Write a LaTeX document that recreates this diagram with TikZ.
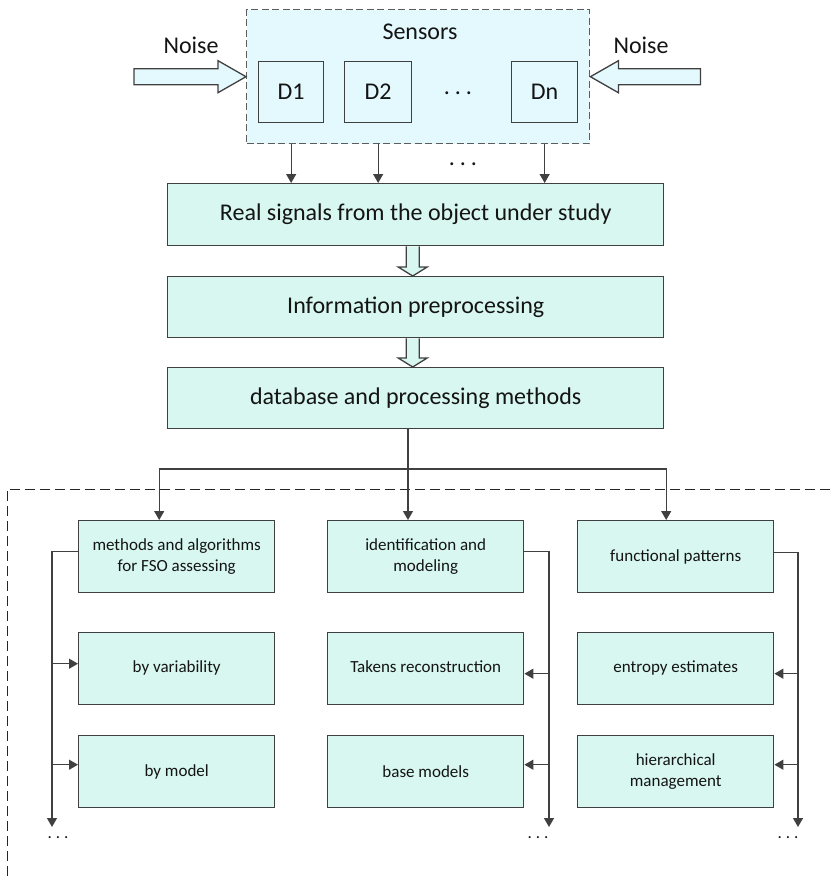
\documentclass[tikz,border=0pt]{standalone}
\usepackage{fontspec}
\setmainfont{Carlito}
\usetikzlibrary{arrows.meta}

\definecolor{mint}{RGB}{215,247,240}
\definecolor{sky}{RGB}{227,249,253}
\definecolor{edge}{RGB}{64,64,64}
\definecolor{ink}{RGB}{20,20,20}

% widely spaced ellipsis
\newcommand{\spdots}[1]{.\kern#1.\kern#1.}

\tikzset{
  big/.style={font=\fontsize{24}{29}\selectfont, text=ink},
  small/.style={font=\fontsize{17}{20.5}\selectfont, text=ink},
  stage/.style={draw=edge, fill=mint, line width=1.4pt, anchor=north west,
    inner sep=0pt, minimum width=496pt, big},
  leaf/.style={draw=edge, fill=mint, line width=1.4pt, anchor=north west,
    inner sep=0pt, minimum width=196pt, minimum height=72pt, align=center, small},
  sensorbox/.style={draw=edge, fill=sky, line width=1.3pt, anchor=north west,
    inner sep=0pt, minimum height=61pt, big},
  group/.style={draw=edge!85, fill=sky, line width=1.4pt, dash pattern=on 7pt off 3.5pt,
    anchor=north west, inner sep=0pt, minimum width=343pt, minimum height=134pt},
  conn/.style={draw=edge, line width=1.3pt},
  arr/.style={conn, -{Triangle[length=9pt,width=10pt]}},
  hollow/.style={draw=edge, line width=1.3pt, line join=miter},
  frame/.style={draw=black!85, line width=1pt, dash pattern=on 10pt off 5pt},
}

\begin{document}
\begin{tikzpicture}[x=1pt, y=-1pt]
  \useasboundingbox (0,0) rectangle (833,876);

  % sensor group
  \node[group] (sens) at (246,9) {};
  \node[big] (senslabel) at (420,32) {Sensors};
  \node[sensorbox, minimum width=65pt] (d1) at (258,61) {D1};
  \node[sensorbox, minimum width=67pt] (d2) at (344,61) {D2};
  \node[sensorbox, minimum width=66pt] (dn) at (511,61) {Dn};
  \node[big] (ddots) at (458,93) {\spdots{5pt}};

  % noise inputs
  \node[big] (noiseL) at (191,45) {Noise};
  \node[big] (noiseR) at (641,45) {Noise};
  \draw[hollow, fill=sky] (sens.west) -- ++(-28,-16) -- ++(0,8) -- ++(-84,0)
    -- ++(0,16) -- ++(84,0) -- ++(0,8) -- cycle;
  \draw[hollow, fill=sky] (sens.east) -- ++(28,-16) -- ++(0,8) -- ++(82,0)
    -- ++(0,16) -- ++(-82,0) -- ++(0,8) -- cycle;

  % processing chain
  \node[stage, minimum height=62pt] (real) at (167,183) {Real signals from the object under study};
  \node[stage, minimum height=61pt] (info) at (167,276) {Information preprocessing};
  \node[stage, minimum height=61pt] (db) at (167,367) {database and processing methods};

  \foreach \d in {d1,d2,dn}
    \draw[arr] (\d |- sens.south) -- (\d |- real.north);
  \node[big] (adots) at (463,164) {\spdots{5pt}};

  % hollow block arrows between stages
  \foreach \a/\b in {real/info, info/db}
    \draw[hollow, fill=mint]
      ([xshift=-9.5pt]\a.south) -- ([xshift=-9.5pt,yshift=9pt]\b.north)
      -- ([xshift=-17.5pt,yshift=9pt]\b.north) -- ([xshift=-3pt]\b.north)
      -- ([xshift=11.5pt,yshift=9pt]\b.north) -- ([xshift=3.5pt,yshift=9pt]\b.north)
      -- ([xshift=3.5pt]\a.south);

  % method frame
  \draw[frame] (7,876) -- (7,489) -- (833,489);

  % method columns
  \node[leaf] (fso) at (78,520) {\raisebox{3pt}{\begin{tabular}{@{}c@{}}methods and algorithms\\for FSO assessing\end{tabular}}};
  \node[leaf] (ident) at (327,520) {\raisebox{3pt}{\begin{tabular}{@{}c@{}}identification and\\modeling\end{tabular}}};
  \node[leaf] (func) at (577,520) {functional patterns};
  \node[leaf] (var) at (78,632) {\raisebox{4pt}{by variability}};
  \node[leaf] (takens) at (327,632) {\raisebox{4pt}{Takens reconstruction}};
  \node[leaf] (entropy) at (577,632) {\raisebox{4pt}{entropy estimates}};
  \node[leaf] (model) at (78,735) {by model};
  \node[leaf] (base) at (327,735) {base models};
  \node[leaf] (hier) at (577,735) {hierarchical\\management};

  % distribution from the database
  \coordinate (hub) at (408,469);
  \draw[conn] (hub |- db.south) -- (hub);
  \draw[arr] (hub) -- (hub |- ident.north);
  \draw[arr] (hub) -| ([xshift=-17.5pt]fso.north);
  \draw[arr] (hub) -| ([xshift=-9.5pt]func.north);

  % column buses
  \coordinate (lend) at (52,827);
  \coordinate (mend) at (549,827);
  \coordinate (rend) at (798,827);
  \draw[arr] ([yshift=5pt]fso.west) -| (lend);
  \draw[arr] ([yshift=5pt]ident.east) -| (mend);
  \draw[arr] ([yshift=4pt]func.east) -| (rend);
  \draw[arr] ([yshift=5pt]var.west -| lend) -- ([yshift=5pt]var.west);
  \draw[arr] ([yshift=7pt]model.west -| lend) -- ([yshift=7pt]model.west);
  \draw[arr] ([yshift=-5pt]takens.east -| mend) -- ([yshift=-5pt]takens.east);
  \draw[arr] ([yshift=7pt]base.east -| mend) -- ([yshift=7pt]base.east);
  \draw[arr] ([yshift=-5pt]entropy.east -| rend) -- ([yshift=-5pt]entropy.east);
  \draw[arr] ([yshift=7pt]hier.east -| rend) -- ([yshift=7pt]hier.east);

  \node[small] (ldots) at (58,838) {\spdots{4pt}};
  \node[small] (mdots) at (538,838) {\spdots{4pt}};
  \node[small] (rdots) at (788,838) {\spdots{4pt}};
\end{tikzpicture}
\end{document}
